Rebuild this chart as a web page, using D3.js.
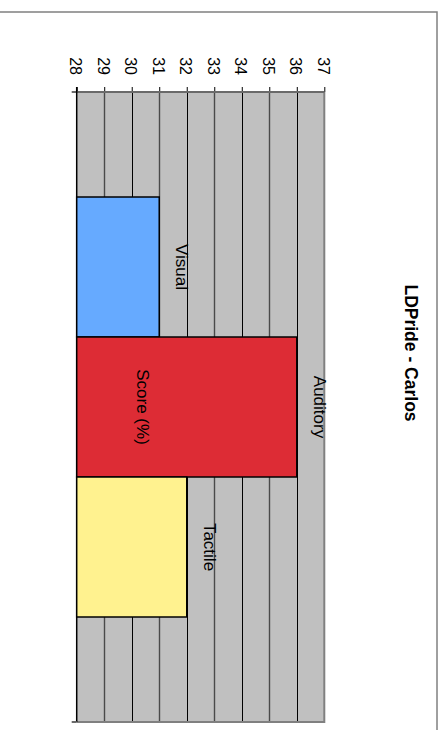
<!DOCTYPE html>
<html>
<head>
<meta charset="utf-8">
<script src="https://cdn.jsdelivr.net/npm/d3@7"></script>
<style>
  body { margin: 0; background: #fff; }
  text { font-family: "Liberation Sans", Arial, sans-serif; fill: #000; }
</style>
</head>
<body>
<div id="chart-area"></div>
<script>
const title = "LDPride - Carlos";
const axisTitle = "Score (%)";
const groups = ["LDPride"];
const styles = ["Visual", "Auditory", "Tactile"];
const scores = [31, 36, 32];
const tickValues = [28, 29, 30, 31, 32, 33, 34, 35, 36, 37];

const barColors = ["#66aaff", "#dd2c35", "#fff28f"];

const svgWidth = 446;
const svgHeight = 730;

const svg = d3.select("#chart-area")
  .append("svg")
  .attr("width", svgWidth)
  .attr("height", svgHeight);

// outer frame (only top and right edges show)
svg.append("rect")
  .attr("x", -10).attr("y", 12)
  .attr("width", 447).attr("height", 740)
  .attr("fill", "none")
  .attr("stroke", "#808080")
  .attr("stroke-width", 1.5);

// chart is drawn turned a quarter clockwise: value runs left to right
const plot = { left: 76.7, right: 324.3, top: 92, bottom: 722 };

const x = d3.scaleLinear()
  .domain([tickValues[0], tickValues[tickValues.length - 1]])
  .range([plot.left, plot.right]);

const yGroup = d3.scaleBand()
  .domain(groups)
  .range([plot.top, plot.bottom])
  .paddingOuter(0.25)
  .paddingInner(0);

const ySeries = d3.scaleBand()
  .domain(styles)
  .range([0, yGroup.bandwidth()]);

// plot area
svg.append("rect")
  .attr("x", plot.left).attr("y", plot.top)
  .attr("width", plot.right - plot.left)
  .attr("height", plot.bottom - plot.top)
  .attr("fill", "#c0c0c0");

// gridlines
svg.append("g")
  .selectAll("line")
  .data(tickValues.slice(1, -1))
  .enter()
  .append("line")
    .attr("x1", d => Math.round(x(d)) + 0.5)
    .attr("x2", d => Math.round(x(d)) + 0.5)
    .attr("y1", plot.top)
    .attr("y2", plot.bottom)
    .attr("stroke", (d, i) => i % 2 === 0 ? "#4a4a4a" : "#000")
    .attr("stroke-width", (d, i) => i % 2 === 0 ? 1.4 : 1);

// plot border right / bottom
svg.append("path")
  .attr("d", `M${plot.right},${plot.top} V${plot.bottom} H${plot.left}`)
  .attr("fill", "none")
  .attr("stroke", "#808080")
  .attr("stroke-width", 2);

// value axis along the top
const xAxis = d3.axisTop(x)
  .tickValues(tickValues)
  .tickSize(5)
  .tickFormat("");

const xAxisG = svg.append("g")
  .attr("transform", `translate(0, ${plot.top})`)
  .call(xAxis);
xAxisG.select(".domain").remove();
xAxisG.selectAll(".tick line").attr("stroke", "#000");

svg.append("line")
  .attr("x1", plot.left - 5).attr("x2", plot.right)
  .attr("y1", plot.top).attr("y2", plot.top)
  .attr("stroke", "#6a6a6a")
  .attr("stroke-width", 2);

svg.append("g")
  .selectAll("text")
  .data(tickValues)
  .enter()
  .append("text")
    .attr("transform", d => `translate(${x(d) - 1}, ${plot.top - 17}) rotate(90)`)
    .attr("text-anchor", "end")
    .attr("dy", "0.35em")
    .style("font-size", "16px")
    .text(d => d);

// category axis on the left
svg.append("line")
  .attr("x1", plot.left).attr("x2", plot.left)
  .attr("y1", plot.top - 5).attr("y2", plot.bottom)
  .attr("stroke", "#000")
  .attr("stroke-width", 1.5);
svg.append("line")
  .attr("x1", plot.left - 5).attr("x2", plot.left)
  .attr("y1", plot.bottom).attr("y2", plot.bottom)
  .attr("stroke", "#6a6a6a")
  .attr("stroke-width", 2);

// bars
const bars = styles.map((s, i) => ({ style: s, score: scores[i], color: barColors[i] }));

svg.append("g")
  .selectAll("rect")
  .data(bars)
  .enter()
  .append("rect")
    .attr("x", x(tickValues[0]))
    .attr("y", d => yGroup(groups[0]) + ySeries(d.style))
    .attr("width", d => x(d.score) - x(tickValues[0]))
    .attr("height", ySeries.bandwidth())
    .attr("fill", d => d.color)
    .attr("stroke", "#000")
    .attr("stroke-width", 1.5);

// data labels after the bar ends
svg.append("g")
  .selectAll("text")
  .data(bars)
  .enter()
  .append("text")
    .attr("transform", d => `translate(${x(d.score) + 23}, ${yGroup(groups[0]) + ySeries(d.style) + ySeries.bandwidth() / 2}) rotate(90)`)
    .attr("text-anchor", "middle")
    .attr("dy", "0.35em")
    .style("font-size", "17px")
    .text(d => d.style);

// axis title
svg.append("text")
  .attr("transform", `translate(143, ${(plot.top + plot.bottom) / 2}) rotate(90)`)
  .attr("text-anchor", "middle")
  .attr("dy", "0.35em")
  .style("font-size", "17px")
  .text(axisTitle);

// chart title
svg.append("text")
  .attr("transform", `translate(411, 353) rotate(90)`)
  .attr("text-anchor", "middle")
  .attr("dy", "0.35em")
  .style("font-size", "17.5px")
  .style("font-weight", "bold")
  .text(title);
</script>
</body>
</html>
